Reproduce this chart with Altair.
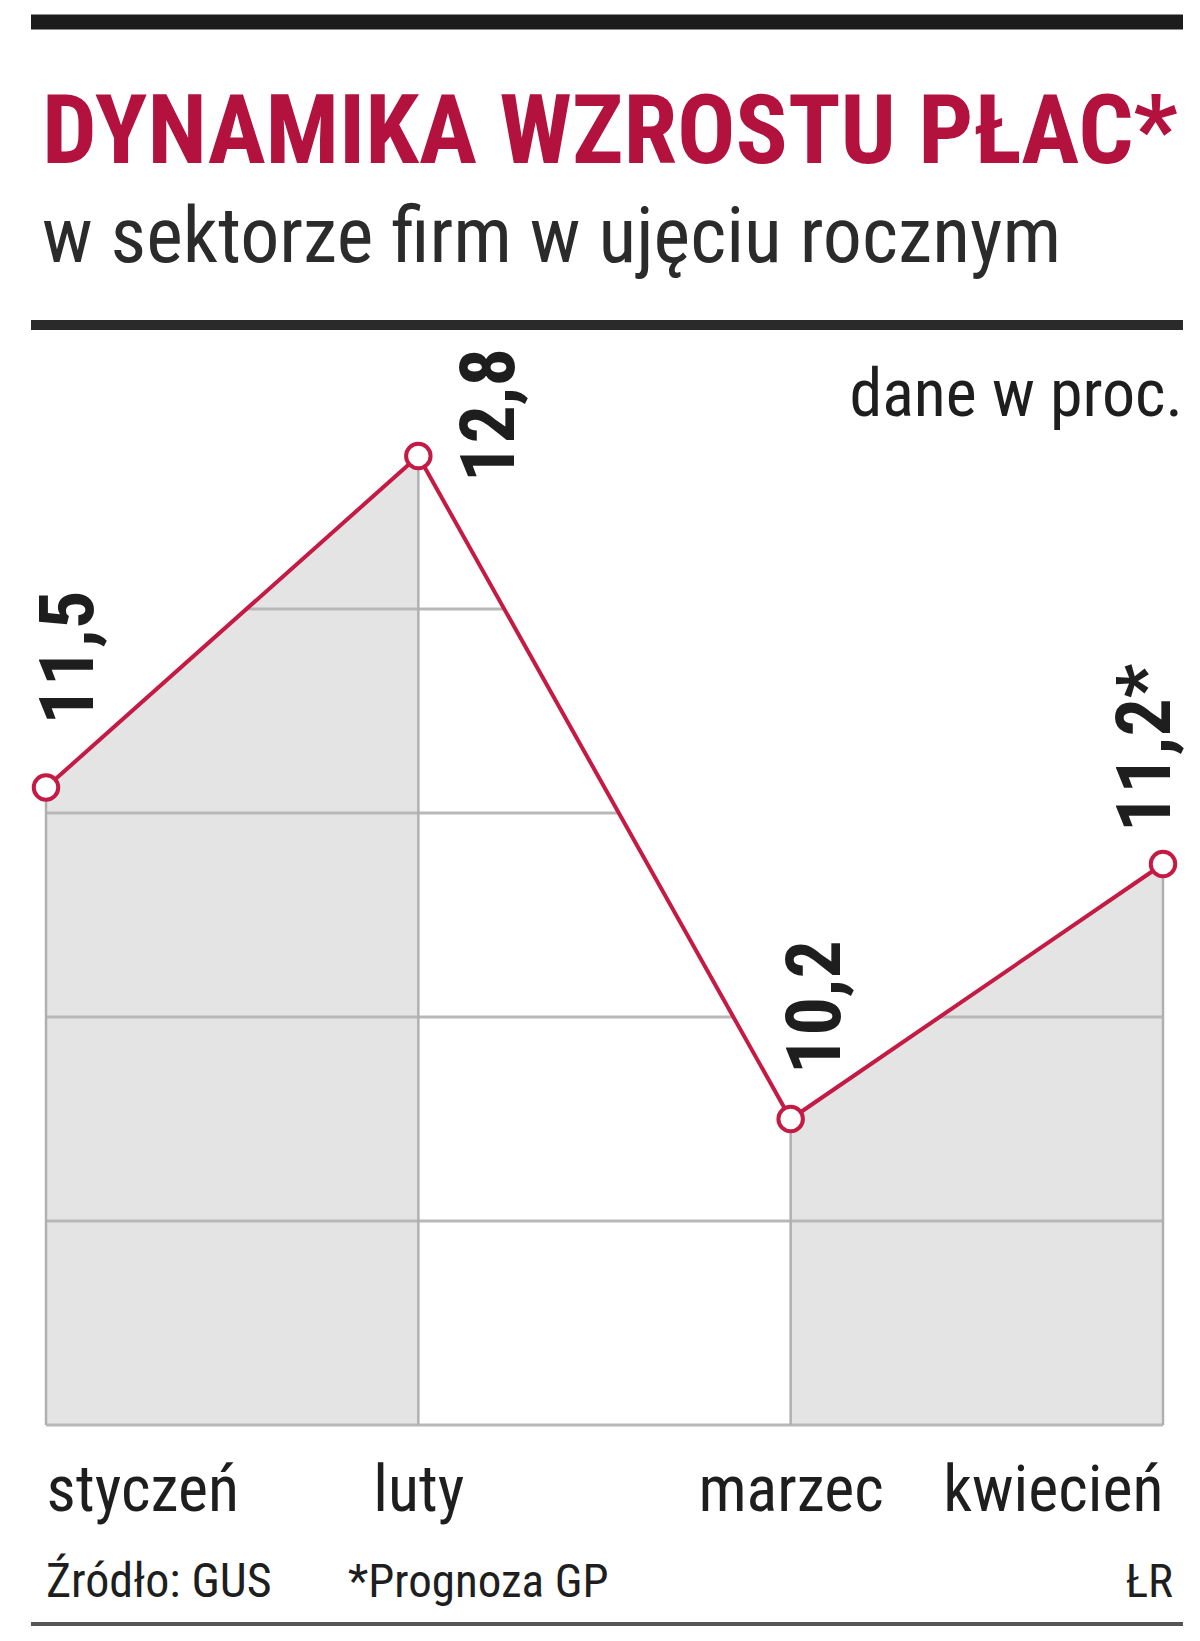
import altair as alt
import pandas as pd

# ---------------- data ----------------
months = ["styczeń", "luty", "marzec", "kwiecień"]
values = [11.5, 12.8, 10.2, 11.2]
value_labels = ["11,5", "12,8", "10,2", "11,2*"]
grid_values = [9.0, 9.8, 10.6, 11.4, 12.2]
shaded_segments = [(0, 1), (2, 3)]  # month index pairs with grey fill below

title_text = "DYNAMIKA WZROSTU PŁAC*"
subtitle_text = "w sektorze firm w ujęciu rocznym"
unit_text = "dane w proc."
source_text = "Źródło: GUS"
note_text = "*Prognoza GP"
author_text = "ŁR"

# ---------------- style ----------------
Y_MIN, Y_MAX = 9, 13
W, H = 1117, 1020
RED = "#c41a43"
TITLE_RED = "#b3123e"
FILL = "#e4e4e4"
GRID = "#b8b8b8"
INK = "#1e1e1e"
FONT = "Roboto Condensed"

df = pd.DataFrame({"month": months, "value": values, "label": value_labels})
seg_rows = []
for k, (a, b) in enumerate(shaded_segments):
    for i in (a, b):
        seg_rows.append({"month": months[i], "value": values[i], "seg": k})
df_seg = pd.DataFrame(seg_rows)
df_grid = pd.DataFrame({"g": grid_values})

yscale = alt.Scale(domain=[Y_MIN, Y_MAX], zero=False, nice=False)
xenc = alt.X(
    "month:N",
    sort=months,
    scale=alt.Scale(type="point", padding=0),
    axis=alt.Axis(
        title=None, domain=False, ticks=False, tickSize=0, grid=False,
        labelFlush=True, labelAngle=0, labelFont=FONT, labelFontSize=64,
        labelColor=INK, labelPadding=85, labelBaseline="alphabetic",
        labelLimit=0,
    ),
)
yenc = alt.Y("value:Q", scale=yscale, axis=None)

area = alt.Chart(df_seg).mark_area(color=FILL, opacity=1).encode(
    x=xenc, y=yenc, y2=alt.datum(Y_MIN), detail="seg:N"
)
grid = alt.Chart(df_grid).mark_rule(color=GRID, strokeWidth=3).encode(
    y=alt.Y("g:Q", scale=yscale, axis=None)
)
mask = alt.Chart(df).mark_area(color="white", opacity=1).encode(
    x=xenc, y=yenc, y2=alt.datum(Y_MAX)
)
vrules = alt.Chart(df).mark_rule(color="#b0b0b0", strokeWidth=2.5).encode(
    x=xenc, y=yenc, y2=alt.datum(Y_MIN)
)
line = alt.Chart(df).mark_line(color=RED, strokeWidth=4).encode(x=xenc, y=yenc)
points = alt.Chart(df).mark_point(
    shape="circle", filled=True, fill="white", stroke=RED, strokeWidth=4,
    size=600, opacity=1,
).encode(x=xenc, y=yenc)

# label offsets: dx along the (rotated) text, dy across it
label_offsets = [(63, 24), (-26, 73), (45, 26), (32, -16)]
label_layers = []
for m, (ddx, ddy) in zip(months, label_offsets):
    label_layers.append(
        alt.Chart(df).transform_filter(alt.datum.month == m).mark_text(
            angle=270, align="left", baseline="middle", dx=ddx, dy=ddy,
            font=FONT, fontWeight="bold", fontSize=76, color=INK,
        ).encode(x=xenc, y=yenc, text="label:N")
    )


def deco_text(txt, x, y, size, color=INK, weight="normal", align="left"):
    return alt.Chart(pd.DataFrame({"t": [txt]})).mark_text(
        align=align, baseline="alphabetic", font=FONT, fontSize=size,
        fontWeight=weight, color=color,
    ).encode(x=alt.value(x), y=alt.value(y), text="t:N")


def deco_rule(y, width, color):
    return alt.Chart(pd.DataFrame({"r": [0]})).mark_rule(
        color=color, strokeWidth=width, strokeCap="butt"
    ).encode(x=alt.value(-15), x2=alt.value(1137), y=alt.value(y))


decor = [
    deco_rule(-383, 15, "#1c1c1c"),
    deco_text(title_text, -4, -242, 97, TITLE_RED, "bold"),
    deco_text(subtitle_text, -4, -143, 78, "#2b2b2b"),
    deco_rule(-80, 10, "#2a2a2a"),
    deco_text(unit_text, 1137, 11, 66, INK, align="right"),
    deco_text(source_text, 0, 1192, 48, INK),
    deco_text(note_text, 302, 1192, 47, INK),
    deco_text(author_text, 1127, 1192, 47, INK, align="right"),
    deco_rule(1219, 4, "#555555"),
]

chart = alt.layer(
    area, grid, mask, vrules, line, points, *label_layers, *decor
).properties(
    width=W, height=H,
    padding={"left": 38, "top": 397, "right": 29, "bottom": 210},
    autosize=alt.AutoSizeParams(type="none"),
).configure_view(stroke=None)

chart.save("out.html", embed_options={"renderer": "svg", "actions": False})
